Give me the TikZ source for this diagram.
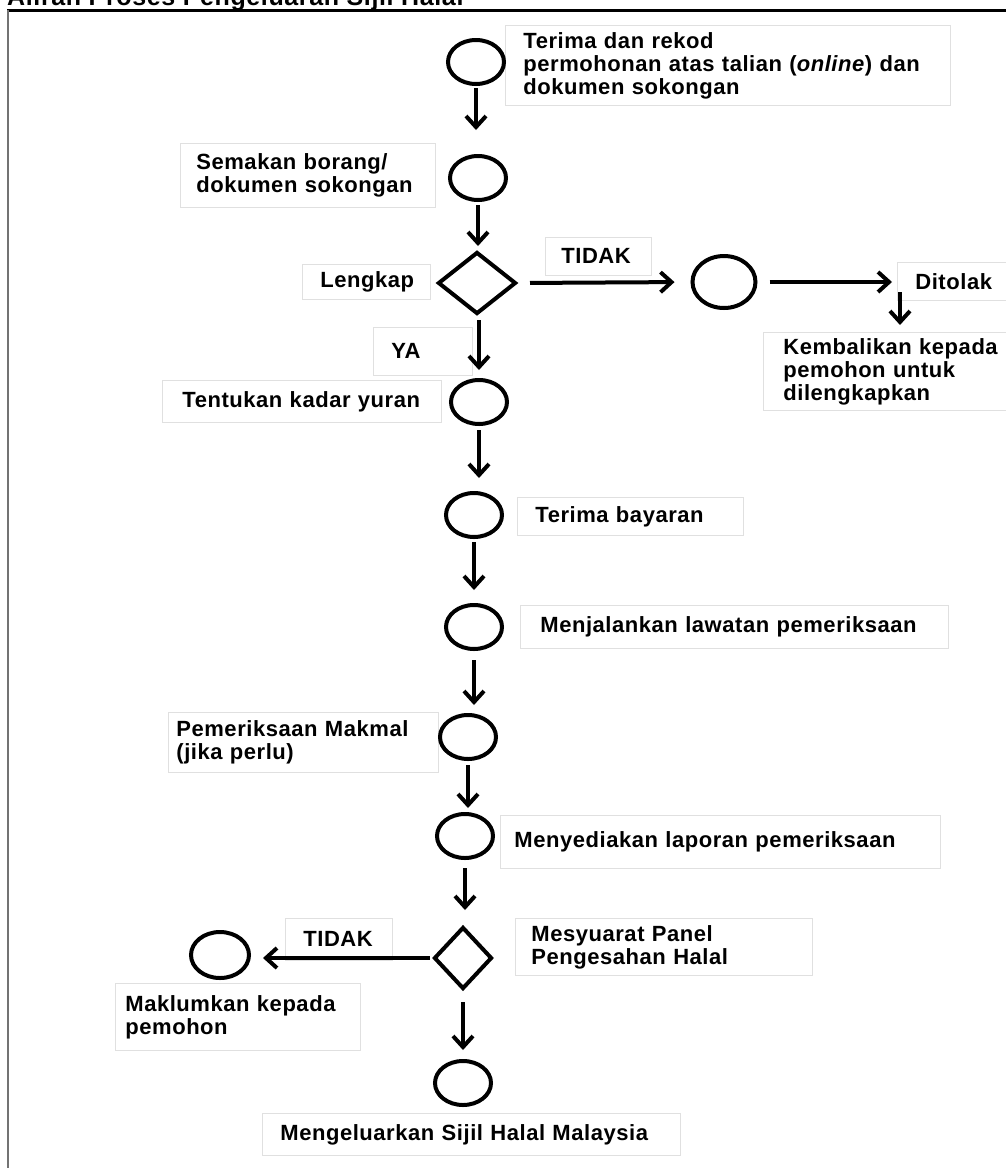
\documentclass[tikz,border=0pt]{standalone}
\usepackage{fontspec}
\setmainfont[LetterSpace=2.5]{Liberation Sans}
\usetikzlibrary{shapes.geometric,arrows.meta}
\begin{document}
\begin{tikzpicture}[x=1pt,y=-1pt,
  every node/.style={font=\fontsize{22}{23}\selectfont\bfseries},
  proc/.style={ellipse,draw,line width=4pt,minimum width=56pt,minimum height=44pt,inner sep=0pt},
  dec/.style={diamond,draw,line width=4pt,inner sep=0pt},
  lbl/.style={draw=black!12,line width=0.8pt,anchor=north west,align=left,inner ysep=0pt},
  arr/.style={-{Straight Barb[length=11pt,width=20pt]},line width=4pt},
  frame/.style={line width=3pt}
]
\useasboundingbox (0,0) rectangle (1006,1168);
\clip (0,0) rectangle (1006,1168);
% title and frame
\node[anchor=base west,inner sep=0pt,font=\fontsize{25}{26}\selectfont\bfseries] (title) at (7,5) {Aliran Proses Pengeluaran Sijil Halal};
\draw[frame] (7,10) -- (1006,10);
\draw[line width=2pt,black!55] (8,10) -- (8,1168);

% text boxes
\node[lbl,inner xsep=18pt,text width=409pt,minimum height=80pt] (b1) at (505,25)
  {Terima dan rekod\\permohonan atas talian (\textit{online}) dan\\dokumen sokongan};
\node[lbl,inner xsep=16pt,text width=223pt,minimum height=64pt] (b2) at (180,143)
  {Semakan borang/\\dokumen sokongan};
\node[lbl,inner xsep=18pt,text width=92pt,minimum height=35pt] (blk) at (302,264) {Lengkap};
\node[lbl,inner xsep=16pt,text width=74pt,minimum height=38pt] (bt1) at (545,237) {TIDAK};
\node[lbl,inner xsep=18pt,text width=100pt,minimum height=38pt] (bdit) at (897,262) {Ditolak};
\node[lbl,inner xsep=20pt,text width=240pt,minimum height=78pt] (bkem) at (763,332)
  {Kembalikan kepada\\pemohon untuk\\dilengkapkan};
\node[lbl,inner xsep=18pt,text width=63pt,minimum height=48pt] (bya) at (373,327) {YA};
\node[lbl,inner xsep=20pt,text width=239pt,minimum height=42pt] (btk) at (162,380) {Tentukan kadar yuran};
\node[lbl,inner xsep=18pt,text width=190pt,minimum height=38pt] (btb) at (517,497) {Terima bayaran};
\node[lbl,inner xsep=20pt,text width=388pt,minimum height=43pt] (bml) at (520,605) {Menjalankan lawatan pemeriksaan};
\node[lbl,inner xsep=8pt,text width=254pt,minimum height=60pt] (bpm) at (168,712)
  {Pemeriksaan Makmal\\(jika perlu)};
\node[lbl,inner xsep=14pt,text width=412pt,minimum height=53pt] (bmy) at (500,815) {Menyediakan laporan pemeriksaan};
\node[lbl,inner xsep=16pt,text width=265pt,minimum height=57pt] (bms) at (515,918)
  {Mesyuarat Panel\\Pengesahan Halal};
\node[lbl,inner xsep=18pt,text width=71pt,minimum height=42pt] (bt2) at (285,918) {TIDAK};
\node[lbl,inner xsep=10pt,text width=225pt,minimum height=67pt] (bmk) at (115,983)
  {Maklumkan kepada\\pemohon};
\node[lbl,inner xsep=18pt,text width=382pt,minimum height=42pt] (bsj) at (262,1113) {Mengeluarkan Sijil Halal Malaysia};

% flow shapes
\node[proc] (c1) at (476,62) {};
\node[proc] (c2) at (478,178) {};
\node[dec,minimum width=78pt,minimum height=62pt] (d1) at (477,283) {};
\node[proc,minimum width=63pt,minimum height=52pt] (c3) at (724,282) {};
\node[proc] (c4) at (479,402) {};
\node[proc] (c5) at (474,515) {};
\node[proc] (c6) at (474,627) {};
\node[proc] (c7) at (468,737) {};
\node[proc] (c8) at (465,836) {};
\node[dec,minimum width=58pt,minimum height=62pt] (d2) at (463,958) {};
\node[proc,minimum width=58pt,minimum height=46pt] (c9) at (220,955) {};
\node[proc] (c10) at (463,1083) {};
\coordinate (dtarr) at (900,292);

% connectors
\draw[arr,shorten <=2pt,shorten >=24pt] (c1.south) -- (c1.south |- c2.north);
\draw[arr,shorten <=3pt,shorten >=4pt] (c2.south) -- (c2.south |- d1.north);
\draw[arr,shorten <=12pt,shorten >=16pt] (d1.east) -- (c3.west);
\draw[arr,shorten <=12pt,shorten >=5pt] (c3.east) -- (c3.east -| bdit.west);
\draw[arr,shorten >=7pt] (dtarr) -- (dtarr |- bkem.north);
\draw[arr,shorten <=4pt,shorten >=8pt] (d1.south -| c4.north) -- (c4.north);
\draw[arr,shorten <=4pt,shorten >=13pt] (c4.south) -- (c4.south |- c5.north);
\draw[arr,shorten <=3pt,shorten >=13pt] (c5.south) -- (c5.south |- c6.north);
\draw[arr,shorten <=9pt,shorten >=8pt] (c6.south) -- (c6.south |- c7.north);
\draw[arr,shorten <=4pt,shorten >=4pt] (c7.south) -- (c7.south |- c8.north);
\draw[arr,shorten <=8pt,shorten >=15pt] (c8.south) -- (c8.south |- d2.north);
\draw[arr,shorten <=2pt,shorten >=12pt] (d2.west) -- (d2.west -| c9.east);
\draw[arr,shorten <=11pt,shorten >=9pt] (d2.south) -- (c10.north);
\end{tikzpicture}
\end{document}
